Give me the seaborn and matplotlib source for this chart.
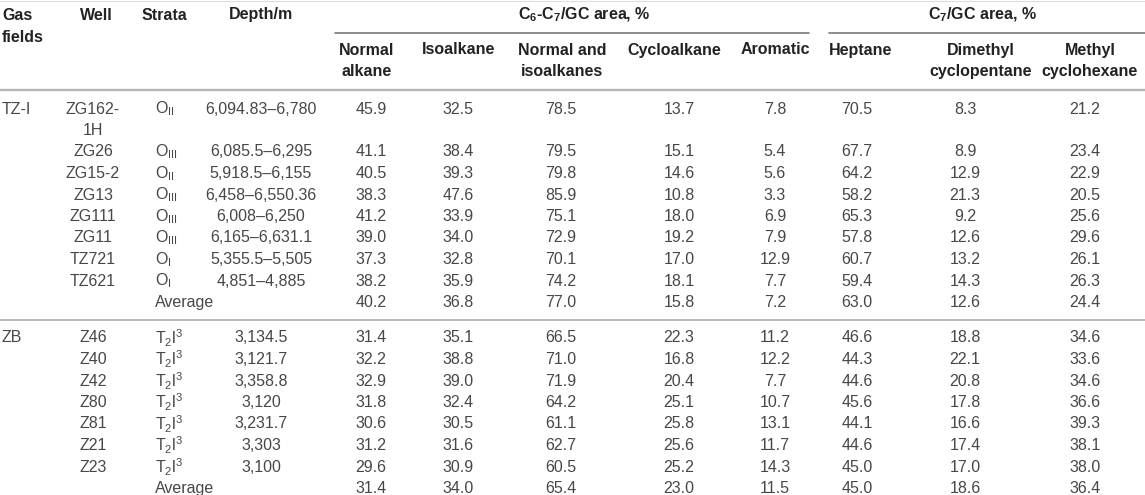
import matplotlib
matplotlib.use("Agg")
import matplotlib.pyplot as plt
import seaborn as sns
import pandas as pd

# table data
gas_fields = ["TZ-I", "", "", "", "", "", "", "", "",
              "ZB", "", "", "", "", "", "", ""]
wells = ["ZG162-\n1H", "ZG26", "ZG15-2", "ZG13", "ZG111", "ZG11", "TZ721", "TZ621", "",
         "Z46", "Z40", "Z42", "Z80", "Z81", "Z21", "Z23", ""]
strata = ["O$_{II}$", "O$_{III}$", "O$_{II}$", "O$_{III}$", "O$_{III}$", "O$_{III}$",
          "O$_{I}$", "O$_{I}$", "Average",
          "T$_2$l$^3$", "T$_2$l$^3$", "T$_2$l$^3$", "T$_2$l$^3$", "T$_2$l$^3$",
          "T$_2$l$^3$", "T$_2$l$^3$", "Average"]
depths = ["6,094.83–6,780", "6,085.5–6,295", "5,918.5–6,155", "6,458–6,550.36",
          "6,008–6,250", "6,165–6,631.1", "5,355.5–5,505", "4,851–4,885", "",
          "3,134.5", "3,121.7", "3,358.8", "3,120", "3,231.7", "3,303", "3,100", ""]

normal_alkane = [45.9, 41.1, 40.5, 38.3, 41.2, 39.0, 37.3, 38.2, 40.2,
                 31.4, 32.2, 32.9, 31.8, 30.6, 31.2, 29.6, 31.4]
isoalkane = [32.5, 38.4, 39.3, 47.6, 33.9, 34.0, 32.8, 35.9, 36.8,
             35.1, 38.8, 39.0, 32.4, 30.5, 31.6, 30.9, 34.0]
normal_iso = [78.5, 79.5, 79.8, 85.9, 75.1, 72.9, 70.1, 74.2, 77.0,
              66.5, 71.0, 71.9, 64.2, 61.1, 62.7, 60.5, 65.4]
cycloalkane = [13.7, 15.1, 14.6, 10.8, 18.0, 19.2, 17.0, 18.1, 15.8,
               22.3, 16.8, 20.4, 25.1, 25.8, 25.6, 25.2, 23.0]
aromatic = [7.8, 5.4, 5.6, 3.3, 6.9, 7.9, 12.9, 7.7, 7.2,
            11.2, 12.2, 7.7, 10.7, 13.1, 11.7, 14.3, 11.5]
heptane = [70.5, 67.7, 64.2, 58.2, 65.3, 57.8, 60.7, 59.4, 63.0,
           46.6, 44.3, 44.6, 45.6, 44.1, 44.6, 45.0, 45.0]
dimethyl_cp = [8.3, 8.9, 12.9, 21.3, 9.2, 12.6, 13.2, 14.3, 12.6,
               18.8, 22.1, 20.8, 17.8, 16.6, 17.4, 17.0, 18.6]
methyl_ch = [21.2, 23.4, 22.9, 20.5, 25.6, 29.6, 26.1, 26.3, 24.4,
             34.6, 33.6, 34.6, 36.6, 39.3, 38.1, 38.0, 36.4]

value_cols = ["Normal\nalkane", "Isoalkane", "Normal and\nisoalkanes", "Cycloalkane",
              "Aromatic", "Heptane", "Dimethyl\ncyclopentane", "Methyl\ncyclohexane"]

df = pd.DataFrame({
    "gas": gas_fields, "well": wells, "strata": strata, "depth": depths,
    value_cols[0]: normal_alkane, value_cols[1]: isoalkane,
    value_cols[2]: normal_iso, value_cols[3]: cycloalkane,
    value_cols[4]: aromatic, value_cols[5]: heptane,
    value_cols[6]: dimethyl_cp, value_cols[7]: methyl_ch,
})

# layout (pixel coords)
W, H = 1145, 495
ROW_H = 21.5
hdr_x = [367, 459, 562, 674, 775, 861, 981, 1090]
val_x = [371, 458, 561, 679, 775, 857, 965, 1085]

sns.set_theme(style="white")
plt.rcParams["font.family"] = ["Liberation Sans", "DejaVu Sans"]
plt.rcParams["mathtext.default"] = "regular"

fig = plt.figure(figsize=(W / 100, H / 100), dpi=100)
ax = fig.add_axes([0, 0, 1, 1])
ax.set_xlim(0, W)
ax.set_ylim(H, 0)
ax.axis("off")

FS = 11.5
body = dict(fontsize=FS, color="#474747", va="center")
head = dict(fontsize=FS, color="#222222", fontweight="bold", va="center",
            linespacing=1.5)

# header
ax.text(2, 26.5, "Gas\nfields", ha="left", **head)
ax.text(96, 15, "Well", ha="center", **head)
ax.text(164, 15, "Strata", ha="center", **head)
ax.text(261, 15, "Depth/m", ha="center", **head)
ax.text(584, 15, "C$_6$-C$_7$/GC area, %", ha="center", **head)
ax.text(982, 15, "C$_7$/GC area, %", ha="center", **head)
for x, lab in zip(hdr_x, value_cols):
    y = 61 if "\n" in lab else 50
    ax.text(x, y, lab, ha="center", **head)

ax.plot([0, W], [0.5, 0.5], color="#dddddd", lw=0.8)
ax.plot([335, 809], [33, 33], color="#7a7a7a", lw=1.2)
ax.plot([829, W], [33, 33], color="#7a7a7a", lw=1.2)
ax.plot([0, W], [90, 90], color="#b4b4b4", lw=1.7)

# body rows
y = 109
for i, row in df.iterrows():
    if i == 9:
        y += 14
        ax.plot([0, W], [y - 18, y - 18], color="#b4b4b4", lw=1.3)
    ax.text(2, y, row["gas"], ha="left", **body)
    well_lines = row["well"].split("\n")
    for k, wl in enumerate(well_lines):
        ax.text(93, y + k * ROW_H, wl, ha="center", **body)
    ax.text(155, y, row["strata"], ha="left", **body)
    ax.text(261, y, row["depth"], ha="center", **body)
    for x, col in zip(val_x, value_cols):
        ax.text(x, y, f"{row[col]:.1f}", ha="center", **body)
    y += ROW_H * len(well_lines)

fig.savefig("out.png", dpi=100, facecolor="white")
